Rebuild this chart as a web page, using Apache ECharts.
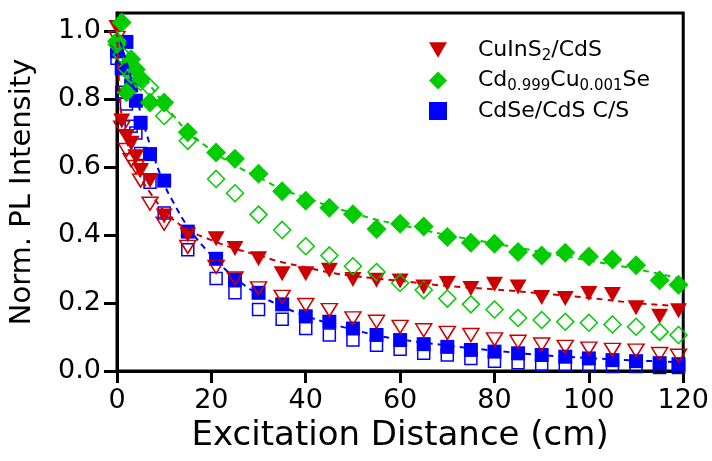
<!DOCTYPE html>
<html>
<head>
<meta charset="utf-8">
<script src="https://cdn.jsdelivr.net/npm/echarts@6/dist/echarts.min.js"></script>
<style>
    html, body { margin: 0; padding: 0; background: #fff; }
    #chart { width: 712px; height: 461px; }
</style>
</head>
<body>
<div id="chart"></div>
<script>
// Measured points (cm)
const distance = [0, 1, 2, 3, 4, 5, 7, 10, 15, 21, 25, 30, 35, 40, 45, 50, 55, 60, 65, 70, 75, 80, 85, 90, 95, 100, 105, 110, 115, 119];

const cuInSFilled = [1.01, 0.735, 0.69, 0.67, 0.63, 0.59, 0.56, 0.456, 0.40, 0.389, 0.36, 0.33, 0.286, 0.286, 0.296, 0.269, 0.267, 0.265, 0.247, 0.257, 0.243, 0.255, 0.247, 0.216, 0.213, 0.228, 0.225, 0.186, 0.161, 0.177];
const cuInSOpen = [0.98, 0.716, 0.65, 0.62, 0.60, 0.56, 0.492, 0.433, 0.365, 0.306, 0.272, 0.243, 0.218, 0.194, 0.179, 0.155, 0.145, 0.13, 0.12, 0.112, 0.106, 0.093, 0.086, 0.078, 0.071, 0.066, 0.062, 0.06, 0.05, 0.045];

const cdCuSeFilled = [0.97, 1.025, 0.82, 0.917, 0.887, 0.86, 0.79, 0.79, 0.702, 0.643, 0.624, 0.58, 0.529, 0.501, 0.48, 0.461, 0.418, 0.433, 0.425, 0.394, 0.377, 0.374, 0.35, 0.34, 0.348, 0.337, 0.328, 0.311, 0.267, 0.254];
const cdCuSeOpen = [0.96, 0.93, 0.89, 0.87, 0.86, 0.85, 0.834, 0.75, 0.677, 0.565, 0.523, 0.46, 0.415, 0.367, 0.34, 0.308, 0.291, 0.259, 0.238, 0.213, 0.196, 0.181, 0.156, 0.15, 0.145, 0.142, 0.137, 0.13, 0.115, 0.106];

const cdSeFilled = [0.94, 0.89, 0.968, 0.84, 0.795, 0.73, 0.638, 0.56, 0.41, 0.33, 0.269, 0.23, 0.196, 0.161, 0.145, 0.125, 0.106, 0.091, 0.079, 0.071, 0.062, 0.057, 0.052, 0.047, 0.042, 0.037, 0.032, 0.029, 0.023, 0.02];
const cdSeOpen = [0.92, 0.82, 0.785, 0.72, 0.70, 0.64, 0.555, 0.465, 0.357, 0.272, 0.23, 0.181, 0.152, 0.125, 0.106, 0.091, 0.076, 0.064, 0.052, 0.047, 0.037, 0.029, 0.024, 0.02, 0.018, 0.016, 0.013, 0.013, 0.01, 0.01];

// Fit curves (dashed)
const fitDistance = [0, 0.5, 1, 2, 3, 5, 7, 10, 12, 15, 20, 25, 30, 35, 40, 45, 50, 55, 60, 70, 80, 90, 100, 110, 120];
const cuInSFit = [1.0, 0.83, 0.75, 0.68, 0.64, 0.57, 0.525, 0.47, 0.445, 0.415, 0.385, 0.36, 0.34, 0.32, 0.305, 0.29, 0.28, 0.272, 0.265, 0.25, 0.24, 0.228, 0.215, 0.2, 0.19];
const cdCuSeFit = [1.0, 0.985, 0.97, 0.945, 0.92, 0.875, 0.84, 0.785, 0.75, 0.705, 0.65, 0.605, 0.57, 0.535, 0.51, 0.485, 0.465, 0.445, 0.43, 0.4, 0.375, 0.35, 0.325, 0.3, 0.27];
const cdSeFit = [1.0, 0.98, 0.955, 0.91, 0.86, 0.76, 0.665, 0.55, 0.495, 0.425, 0.34, 0.275, 0.225, 0.19, 0.162, 0.14, 0.122, 0.105, 0.093, 0.075, 0.06, 0.047, 0.038, 0.031, 0.026];

const xTicks = [0, 20, 40, 60, 80, 100, 120];
const yTicks = [0, 0.2, 0.4, 0.6, 0.8, 1.0];

const RED = '#cc0000';
const GREEN = '#00cc00';
const BLUE = '#0000ff';
const FONT = 'DejaVu Sans';

const names = {
    cu: 'CuInS2/CdS',
    cd: 'Cd0.999Cu0.001Se',
    se: 'CdSe/CdS C/S'
};

const legendLabels = {
    [names.cu]: '{n|CuInS}{s|2}{n|/CdS}',
    [names.cd]: '{n|Cd}{s|0.999}{n|Cu}{s|0.001}{n|Se}',
    [names.se]: '{n|CdSe/CdS C/S}'
};

const pairs = (xs, ys) => xs.map((x, i) => [x, ys[i]]);

function filledSeries(name, ys, color, symbol, size, rotate) {
    return {
        name: name,
        type: 'scatter',
        data: pairs(distance, ys),
        symbol: symbol,
        symbolSize: size,
        symbolRotate: rotate || 0,
        clip: false,
        itemStyle: { color: color, opacity: 1 },
        emphasis: { disabled: true }
    };
}

function openSeries(ys, color, symbol, size, rotate) {
    return {
        type: 'scatter',
        data: pairs(distance, ys),
        symbol: symbol,
        symbolSize: size,
        symbolRotate: rotate || 0,
        clip: false,
        itemStyle: { color: 'rgba(255,255,255,0)', borderColor: color, borderWidth: 1.5, opacity: 1 },
        emphasis: { disabled: true }
    };
}

function fitSeries(ys, color) {
    return {
        type: 'line',
        data: pairs(fitDistance, ys),
        showSymbol: false,
        smooth: true,
        silent: true,
        lineStyle: { color: color, width: 2, type: [6, 5] }
    };
}

const chart = echarts.init(document.getElementById('chart'), null, { renderer: 'canvas' });

chart.setOption({
    animation: false,
    backgroundColor: '#fff',
    grid: {
        left: 116,
        right: 26,
        top: 13,
        bottom: 90,
        show: true,
        borderColor: '#000',
        borderWidth: 3
    },
    legend: {
        data: [
            { name: names.cu, icon: 'path://M0,0 L10,0 L5,8.5 Z' },
            { name: names.cd, icon: 'diamond' },
            { name: names.se, icon: 'rect' }
        ],
        orient: 'vertical',
        left: 424,
        top: 34,
        itemWidth: 18,
        itemHeight: 18,
        itemGap: 6,
        selectedMode: false,
        formatter: (name) => legendLabels[name],
        textStyle: {
            fontFamily: FONT,
            fontSize: 22,
            color: '#000',
            padding: [0, 0, 0, 26],
            rich: {
                n: { fontFamily: FONT, fontSize: 22, color: '#000' },
                s: { fontFamily: FONT, fontSize: 15, color: '#000', padding: [12, 0, 0, 0] }
            }
        }
    },
    xAxis: {
        type: 'value',
        min: 0,
        max: 120,
        interval: 20,
        name: 'Excitation Distance (cm)',
        nameLocation: 'middle',
        nameGap: 44,
        nameTextStyle: { fontFamily: FONT, fontSize: 34, color: '#000' },
        axisLine: { show: true, onZero: false, lineStyle: { color: '#000', width: 3 } },
        axisTick: { show: true, inside: false, length: 12, lineStyle: { color: '#000', width: 3 }, customValues: xTicks },
        axisLabel: { fontFamily: FONT, fontSize: 27, color: '#000', margin: 16, customValues: xTicks },
        splitLine: { show: false }
    },
    yAxis: {
        type: 'value',
        min: 0,
        max: 1.053,
        name: 'Norm. PL Intensity',
        nameLocation: 'middle',
        nameGap: 80,
        nameTextStyle: { fontFamily: FONT, fontSize: 29, color: '#000' },
        axisLine: { show: true, onZero: false, lineStyle: { color: '#000', width: 3 } },
        axisTick: { show: true, inside: false, length: 13, lineStyle: { color: '#000', width: 3 }, customValues: yTicks },
        axisLabel: {
            fontFamily: FONT,
            fontSize: 27,
            color: '#000',
            margin: 16,
            customValues: yTicks,
            formatter: (v) => v.toFixed(1)
        },
        splitLine: { show: false }
    },
    series: [
        openSeries(cdSeOpen, BLUE, 'rect', 12),
        filledSeries(names.se, cdSeFilled, BLUE, 'rect', 14),
        openSeries(cuInSOpen, RED, 'triangle', [16, 13], 180),
        filledSeries(names.cu, cuInSFilled, RED, 'triangle', [17, 15], 180),
        openSeries(cdCuSeOpen, GREEN, 'diamond', 17),
        filledSeries(names.cd, cdCuSeFilled, GREEN, 'diamond', 20),
        fitSeries(cdSeFit, BLUE),
        fitSeries(cuInSFit, RED),
        fitSeries(cdCuSeFit, GREEN)
    ]
});
</script>
</body>
</html>
